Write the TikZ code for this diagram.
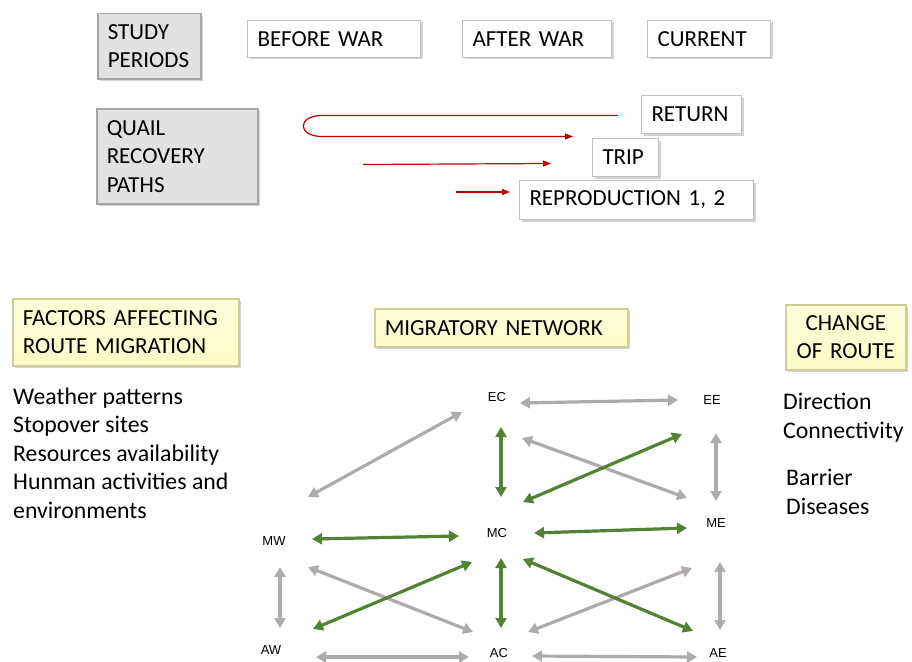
\documentclass[tikz,border=0pt]{standalone}
\usepackage{fontspec}
\usepackage{xcolor}
\usepackage{tikz}
\usetikzlibrary{calc,arrows.meta,shadows}
\setmainfont{Carlito}
\newfontfamily\netfont{Liberation Sans}
\definecolor{qgreen}{RGB}{84, 130, 53}
\definecolor{qgray}{RGB}{175, 171, 171}
\definecolor{qred}{RGB}{192, 0, 0}
\definecolor{boxgray}{RGB}{226, 226, 226}
\definecolor{boxedge}{RGB}{165, 165, 165}
\definecolor{qyellow}{RGB}{252, 252, 200}
\definecolor{yedge}{RGB}{205, 205, 150}

\tikzset{
  basebox/.style={anchor=north west, inner xsep=10pt, inner ysep=0pt, align=left,
    font=\fontsize{23}{28.5}\selectfont, drop shadow={shadow xshift=2pt, shadow yshift=-2pt, opacity=.35}},
  graybox/.style={basebox, fill=boxgray, draw=boxedge, line width=1.5pt},
  whitebox/.style={basebox, fill=white, draw=boxedge!70, line width=1pt},
  yellowbox/.style={basebox, top color=qyellow!70, bottom color=qyellow, draw=yedge, line width=1.5pt},
  listtxt/.style={anchor=base west, inner sep=0pt, font=\fontsize{23.8}{28.5}\selectfont},
  site/.style={inner sep=0pt, font=\netfont\fontsize{13}{15}\selectfont},
  garrow/.style={qgray, line width=3.2pt, {Triangle[length=10pt,width=11pt]}-{Triangle[length=10pt,width=11pt]}},
  varrow/.style={qgreen, line width=3.2pt, {Triangle[length=10pt,width=11pt]}-{Triangle[length=10pt,width=11pt]}},
  rarrow/.style={qred, line width=1.2pt, -{Triangle[length=8pt,width=6pt]}}
}

\begin{document}
\begin{tikzpicture}[x=1pt, y=-1pt]
\useasboundingbox (0,0) rectangle (912,661);

% study periods
\node[graybox, text width=83pt, minimum height=65pt] (study) at (97,13) {STUDY\\PERIODS};
\node[whitebox, text width=153pt, minimum height=37pt] (before) at (247,20) {BEFORE WAR};
\node[whitebox, text width=129pt, minimum height=37pt] (after) at (462,20) {AFTER WAR};
\node[whitebox, text width=103pt, minimum height=37pt] (current) at (647,20) {CURRENT};

% recovery paths
\node[graybox, text width=141pt, minimum height=95pt] (quail) at (96,108) {QUAIL\\RECOVERY\\PATHS};
\node[whitebox, text width=80pt, minimum height=38pt] (return) at (641,95) {RETURN};
\node[whitebox, text width=46pt, minimum height=38pt] (trip) at (592,138) {TRIP};
\node[whitebox, text width=214pt, minimum height=39pt] (repro) at (519,180) {REPRODUCTION 1, 2};

\draw[rarrow] ($(return.west)+(-23,1)$) -- ($(return.west)+(-319,1)$)
  .. controls ($(return.west)+(-344,1)$) and ($(return.west)+(-344,22)$) .. ($(return.west)+(-319,22)$)
  -- ($(trip.west)+(-19,-21)$);
\draw[rarrow] ($(trip.west)+(-229,7)$) -- ($(trip.west)+(-41,6)$);
\draw[rarrow] ($(repro.west)+(-63,-8)$) -- ($(repro.west)+(-9,-8)$);

% headings
\node[yellowbox, text width=206pt, minimum height=67pt] (factors) at (12,298) {FACTORS AFFECTING\\ROUTE MIGRATION};
\node[yellowbox, text width=233pt, minimum height=38pt] (network) at (374,308) {MIGRATORY NETWORK};
\node[yellowbox, text width=100pt, minimum height=65pt, align=center] (change) at (785,304) {CHANGE\\OF ROUTE};

% lists
\foreach \t [count=\i] in {Weather patterns, Stopover sites, Resources availability, Hunman activities and, environments}
  \node[listtxt] (fac\i) at (13, 375.5+28.5*\i) {\t};
\node[listtxt] (dir) at (783,409) {Direction};
\node[listtxt] (con) at (783,438) {Connectivity};
\node[listtxt] (bar) at (786,485) {Barrier};
\node[listtxt] (dis) at (786,514) {Diseases};

% sites
\node[site] (ec) at (497,397) {EC};
\node[site] (ee) at (712,400) {EE};
\node[site] (mw) at (274,541) {MW};
\node[site] (mc) at (497,533) {MC};
\node[site] (me) at (716,523) {ME};
\node[site] (aw) at (271,650) {AW};
\node[site] (ac) at (499,653) {AC};
\node[site] (ae) at (718,653) {AE};

% links
\draw[garrow] ($(ec)+(23,6)$) -- ($(ee)+(-34,0)$);
\draw[garrow] ($(mw)+(34,-44)$) -- ($(ec)+(-35,15)$);
\draw[garrow] ($(ec)+(25,41)$) -- ($(me)+(-29,-25)$);
\draw[garrow] ($(ee)+(4,33)$) -- ($(me)+(0,-22)$);
\draw[garrow] ($(mw)+(6,26)$) -- ($(aw)+(9,-22)$);
\draw[garrow] ($(mw)+(34,26)$) -- ($(ac)+(-26,-21)$);
\draw[garrow] ($(ac)+(29,-21)$) -- ($(me)+(-24,45)$);
\draw[garrow] ($(me)+(4,39)$) -- ($(ae)+(2,-23)$);
\draw[garrow] ($(aw)+(45,7)$) -- ($(ac)+(-30,4)$);
\draw[garrow] ($(ac)+(33,3)$) -- ($(ae)+(-21,4)$);

\draw[varrow] ($(ec)+(4,30)$) -- ($(mc)+(4,-36)$);
\draw[varrow] ($(mc)+(26,-31)$) -- ($(ee)+(-30,34)$);
\draw[varrow] ($(mw)+(38,-2)$) -- ($(mc)+(-38,3)$);
\draw[varrow] ($(mc)+(37,0)$) -- ($(me)+(-29,5)$);
\draw[varrow] ($(aw)+(42,-21)$) -- ($(mc)+(-25,29)$);
\draw[varrow] ($(mc)+(4,25)$) -- ($(ac)+(2,-25)$);
\draw[varrow] ($(mc)+(26,26)$) -- ($(ae)+(-25,-22)$);
\end{tikzpicture}
\end{document}
